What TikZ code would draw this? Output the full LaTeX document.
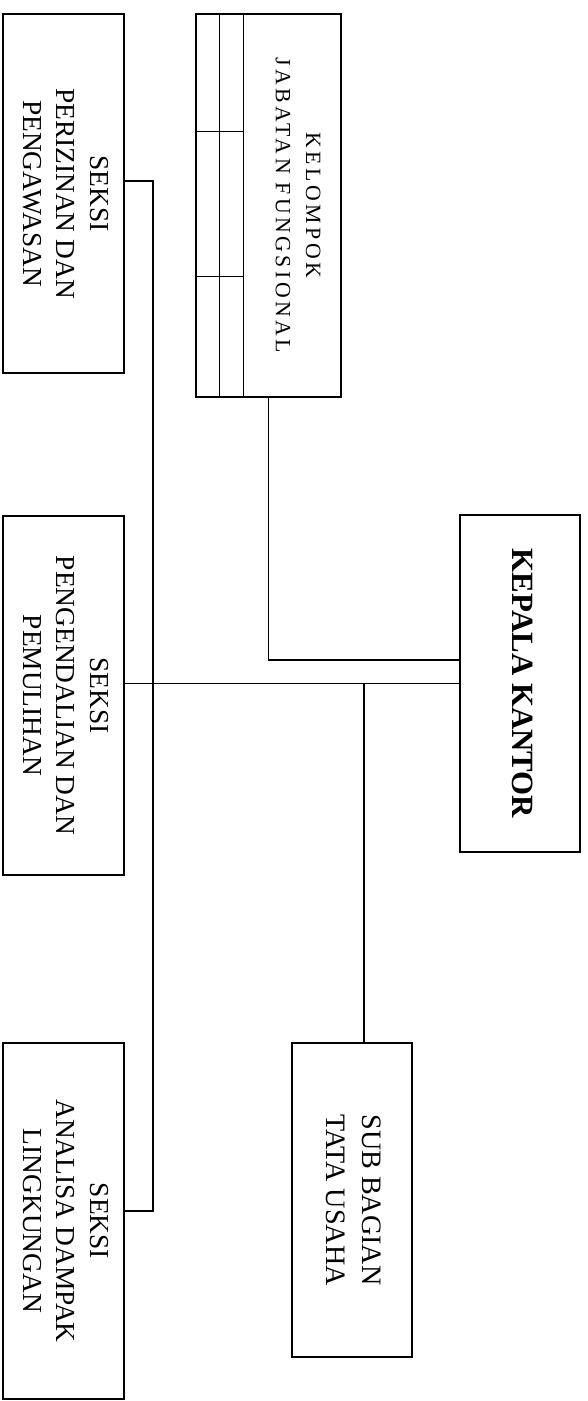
\documentclass[tikz,border=0pt]{standalone}
\usepackage{fontspec}
\setmainfont{Liberation Serif}
\usepackage{graphicx}
\usetikzlibrary{positioning}
\newcommand{\vtext}[1]{\rotatebox{-90}{\begin{tabular}{@{}c@{}}#1\end{tabular}}}
\tikzset{unit/.style={draw, line width=2.2pt, inner sep=0pt},
         seksibox/.style={unit, minimum width=6.05cm, minimum height=17.95cm,
                          font=\fontsize{39}{48}\selectfont},
         line/.style={line width=1.8pt}}
\begin{document}
\begin{tikzpicture}[x=0.05cm, y=-0.05cm]
  \useasboundingbox (0,0) rectangle (588,1401);
  % kepala
  \node[unit, minimum width=6cm, minimum height=16.85cm,
        font=\fontsize{44}{50}\bfseries\selectfont] (kepala) at (520,683.5)
        {\vtext{KEPALA KANTOR}};
  % kelompok jabatan fungsional
  \node[unit, minimum width=7.25cm, minimum height=19.15cm] (kjf) at (268.5,205.5) {};
  \node[font=\fontsize{31}{43}\selectfont\addfontfeature{LetterSpace=16}, inner sep=0pt]
        (kjftxt) at (297,205.5) {\vtext{KELOMPOK\\JABATAN FUNGSIONAL}};
  \draw[line] (kjf.north west) ++(24,0) -- ++(0,383);
  \draw[line] (kjf.north west) ++(48,0) -- ++(0,383);
  \draw[line] (kjf.north west) ++(0,118) -- ++(48,0);
  \draw[line] (kjf.north west) ++(0,263) -- ++(48,0);
  % seksi
  \node[seksibox] (peri) at (63.5,193.5) {\vtext{SEKSI\\PERIZINAN DAN\\PENGAWASAN}};
  \node[seksibox] (peng) at (63.5,695.5) {\vtext{SEKSI\\PENGENDALIAN DAN\\PEMULIHAN}};
  \node[seksibox, minimum height=17.8cm] (ana) at (63.5,1221) {\vtext{SEKSI\\ANALISA DAMPAK\\LINGKUNGAN}};
  % sub bagian
  \node[unit, minimum width=6cm, minimum height=15.7cm,
        font=\fontsize{40}{52}\selectfont] (sub) at (352,1200)
        {\vtext{SUB BAGIAN\\TATA USAHA}};
  % connectors
  \coordinate (bustop) at (153,181);
  \coordinate (busbot) at (153,1211);
  \draw[line] (kepala.west) -- (kepala.west -| peng.east);
  \draw[line] (kjf.south) |- ([yshift=1.175cm]kepala.west);
  \draw[line] ([xshift=0.6cm]sub.north) -- ([xshift=0.6cm]sub.north |- kepala.west);
  \draw[line] (peri.east |- bustop) -- (bustop) -- (busbot) -- (ana.east |- busbot);
\end{tikzpicture}
\end{document}
